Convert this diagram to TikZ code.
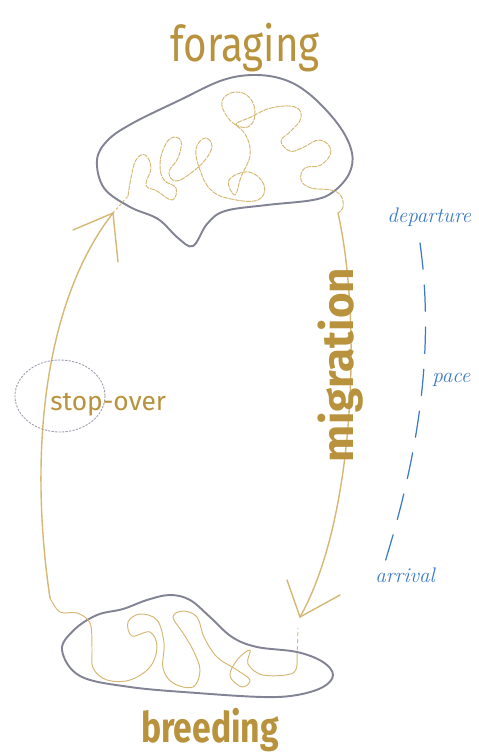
\documentclass[tikz,border=0pt]{standalone}
\usepackage{fontspec}
\newfontfamily\handfont{Fira Sans}
\usetikzlibrary{arrows.meta}
\usepackage{xcolor}
\definecolor{ochre}{RGB}{184,146,60}
\definecolor{straw}{RGB}{214,183,116}
\definecolor{slate}{RGB}{130,132,150}
\definecolor{inkblue}{RGB}{60,122,200}

\begin{document}
\begin{tikzpicture}[x=0.02cm,y=-0.02cm,line cap=round,line join=round,
  blob/.style={slate,line width=1.1pt},
  trail/.style={straw,line width=0.8pt},
  wander/.style={straw,line width=0.55pt},
  tag/.style={ochre,inner sep=0pt},
  note/.style={inkblue,inner sep=0pt,font=\fontsize{12}{14}\selectfont\itshape}]
\useasboundingbox (0,0) rectangle (478,753);
% habitats
\draw[blob] plot[smooth cycle,tension=0.6] coordinates {(97,160) (108,140) (133,123) (180,100) (223,80) (257,75)
  (288,81) (314,98) (340,127) (352,153) (349,174) (333,192) (313,200) (267,205) (225,211) (207,224)
  (193,246) (178,238) (158,219) (130,207) (104,188)};
\draw[blob] plot[smooth cycle,tension=0.6] coordinates {(62,650) (74,630) (97,615) (123,609) (147,600) (170,595)
  (190,600) (210,617) (232,637) (257,647) (297,652) (323,662) (333,675) (323,687) (297,695)
  (263,697) (197,693) (130,687) (80,676)};
% key points
\coordinate (foratip) at (113,213);
\coordinate (foraout) at (338,213);
\coordinate (breedin) at (300,617);
\coordinate (breedout) at (50,598);
% wandering inside the foraging area
\draw[wander,dash pattern=on 1.2pt off 1.6pt] (foratip) -- (128,196);
\draw[wander,dash pattern=on 2.5pt off 0.8pt] plot[smooth,tension=0.7] coordinates {(128,196) (131,178) (136,160)
  (145,155) (151,168) (146,185) (157,191) (172,200) (176,188) (164,180) (160,166) (163,150) (171,138)
  (181,141) (178,158) (169,172) (176,181) (191,173) (205,160) (212,146) (205,138) (196,149) (200,170)
  (211,190) (231,199) (258,200) (264,185) (249,172) (229,180) (235,195) (241,177) (250,155) (245,134)
  (228,118) (222,101) (235,92) (250,98) (255,115) (248,127) (236,124) (251,117) (271,108) (295,107)
  (301,118) (291,131) (281,141) (290,151) (302,148) (320,140) (331,151) (321,165) (305,168) (301,180)
  (311,188) (331,190) (341,196) (343,207) (338,213)};
% wandering inside the breeding area
\draw[wander] plot[smooth,tension=0.6] coordinates {(50,598) (60,612) (77,613) (90,623) (92,647) (93,668)
  (107,680) (130,680) (150,667) (157,647) (150,632) (132,636) (128,622) (140,614) (157,620)
  (164,643) (163,668) (173,683) (193,687) (200,670) (193,650) (183,633) (173,617) (183,611) (197,617)
  (204,637) (217,657) (237,670) (250,680) (242,687) (230,676) (237,660) (250,650) (248,664) (263,675)
  (293,673) (297,657)};
\draw[wander,dash pattern=on 2pt off 2pt] (297,657) -- (298,628);
% routes
\draw[trail] (breedout) .. controls (28,450) and (45,300) .. (foratip);
\draw[trail] (foratip) -- (73,230);
\draw[trail] (foratip) -- (118,262);
\draw[trail] (foraout) .. controls (362,320) and (355,520) .. (breedin);
\draw[trail] (breedin) -- (287,580);
\draw[trail] (breedin) -- (340,595);
% stop-over
\draw[slate!80,line width=0.5pt,dash pattern=on 1pt off 1pt] (60,396) ellipse (45 and 36);
\node[tag,anchor=base west,font=\handfont\fontsize{15}{17}\selectfont] (stopover) at (50,410) {stop-over};
% labels
\node[tag,anchor=base,xscale=0.82,font=\handfont\fontsize{28}{30}\selectfont] (foraging) at (245,62) {foraging};
\node[tag,anchor=base,xscale=0.8,font=\handfont\bfseries\fontsize{24}{28}\selectfont] (breeding) at (210,742) {breeding};
\node[tag,rotate=90,anchor=base,font=\handfont\bfseries\fontsize{25}{28}\selectfont] (migration) at (353,365) {migration};
% timing
\node[note,anchor=base west] (departure) at (387,222) {departure};
\node[note,anchor=base west] (pace) at (432,382) {pace};
\node[note,anchor=base west] (arrival) at (375,582) {arrival};
\coordinate (depend) at (420,243);
\coordinate (arrend) at (385,562);
\draw[inkblue,line width=0.7pt,dash pattern=on 15pt off 9pt] (depend) .. controls (432,330) and (426,430) .. (arrend);
\end{tikzpicture}
\end{document}
